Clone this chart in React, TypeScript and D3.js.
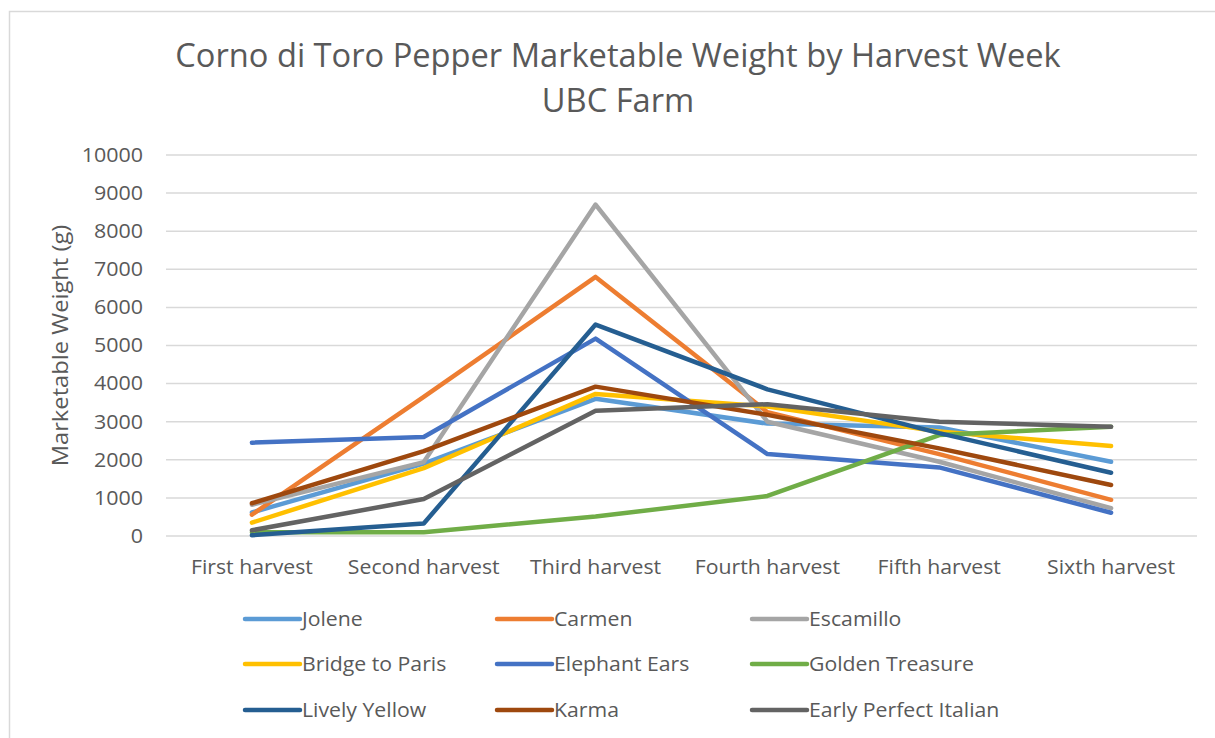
import * as d3 from 'd3';
import React from 'react';

const harvests = ['First harvest', 'Second harvest', 'Third harvest', 'Fourth harvest', 'Fifth harvest', 'Sixth harvest'];
const yTicks = [0, 1000, 2000, 3000, 4000, 5000, 6000, 7000, 8000, 9000, 10000];

const jolene = [620, 1900, 3600, 2950, 2850, 1950];
const carmen = [560, 3650, 6800, 3250, 2150, 950];
const escamillo = [820, 1940, 8700, 3000, 1950, 730];
const bridgeToParis = [350, 1780, 3730, 3400, 2740, 2360];
const elephantEars = [2450, 2600, 5180, 2150, 1800, 610];
const goldenTreasure = [100, 100, 510, 1050, 2650, 2870];
const livelyYellow = [20, 330, 5550, 3850, 2700, 1660];
const karma = [860, 2230, 3920, 3180, 2300, 1340];
const earlyPerfectItalian = [150, 970, 3290, 3460, 3000, 2870];

const seriesNames = ['Jolene', 'Carmen', 'Escamillo', 'Bridge to Paris', 'Elephant Ears', 'Golden Treasure', 'Lively Yellow', 'Karma', 'Early Perfect Italian'];
const seriesValues = [jolene, carmen, escamillo, bridgeToParis, elephantEars, goldenTreasure, livelyYellow, karma, earlyPerfectItalian];
const seriesColors = ['#5B9BD5', '#ED7D31', '#A5A5A5', '#FFC000', '#4472C4', '#70AD47', '#255E91', '#9E480E', '#636363'];

const W = 1215;
const H = 738;
const font = '"Open Sans", "Noto Sans", sans-serif';
const textColor = '#595959';

// text that is a bit wider than Open Sans, like the original
const Txt: React.FC<{ x: number; y: number; size: number; sx?: number; rotate?: number; anchor?: string; dy?: string; children: React.ReactNode }> =
  ({ x, y, size, sx = 1.09, rotate = 0, anchor = 'start', dy, children }) => (
    <g transform={`translate(${x},${y}) rotate(${rotate}) scale(${sx},1)`}>
      <text textAnchor={anchor} dy={dy} fontFamily={font} fontSize={size} fill={textColor}>{children}</text>
    </g>
  );

const App: React.FC = () => {
  const x = d3.scalePoint<string>().domain(harvests).range([166, 1197]).padding(0.5);
  const y = d3.scaleLinear().domain([0, 10000]).range([536, 155]);

  const line = d3.line<number>()
    .x((_d, i) => x(harvests[i]) ?? 0)
    .y(d => y(d));

  // legend grid: 3 columns, 3 rows
  const legendX = d3.scaleOrdinal<number, number>().domain([0, 1, 2]).range([245, 497, 752]);
  const legendY = d3.scaleOrdinal<number, number>().domain([0, 1, 2]).range([619, 664, 710]);

  return (
    <svg width={W} height={H} style={{ position: 'absolute', left: 0, top: 0, background: '#fff' }}>
      <rect x={9.5} y={11.5} width={W + 20} height={H + 20} fill="#fff" stroke="#d9d9d9" strokeWidth={1.5} />

      <Txt x={618} y={67} size={32} sx={1.02} anchor="middle">Corno di Toro Pepper Marketable Weight by Harvest Week</Txt>
      <Txt x={618} y={112} size={32} sx={1.02} anchor="middle">UBC Farm</Txt>

      {yTicks.map(t => (
        <g key={t}>
          <line x1={166} x2={1197} y1={y(t)} y2={y(t)} stroke="#d9d9d9" strokeWidth={1.5} />
          <Txt x={143} y={y(t)} size={19.5} sx={1.1} dy="0.35em" anchor="end">{t}</Txt>
        </g>
      ))}

      {harvests.map(h => (
        <Txt key={h} x={x(h) ?? 0} y={574} size={19.5} anchor="middle">{h}</Txt>
      ))}

      <Txt x={68} y={(155 + 536) / 2} size={21} sx={1.13} rotate={-90} anchor="middle">Marketable Weight (g)</Txt>

      {seriesValues.map((vals, i) => (
        <path key={seriesNames[i]} d={line(vals) ?? ''} fill="none" stroke={seriesColors[i]} strokeWidth={4.5}
          strokeLinejoin="round" strokeLinecap="round" />
      ))}

      {seriesNames.map((name, i) => {
        const lx = legendX(i % 3);
        const ly = legendY(Math.floor(i / 3));
        return (
          <g key={name}>
            <line x1={lx} x2={lx + 55} y1={ly} y2={ly} stroke={seriesColors[i]} strokeWidth={4.5} strokeLinecap="round" />
            <Txt x={lx + 57} y={ly} size={19.5} dy="0.35em">{name}</Txt>
          </g>
        );
      })}
    </svg>
  );
};

export default App;
